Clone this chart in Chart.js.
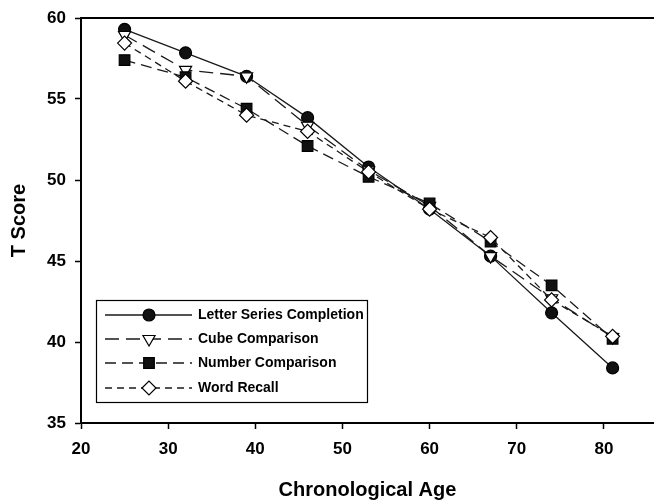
<!DOCTYPE html>
<html lang="en">
<head>
    <meta charset="UTF-8">
    <title>T Score by Chronological Age</title>
    <script src="https://cdn.jsdelivr.net/npm/chart.js"></script>
    <style>
        body { margin: 0; background: #fff; }
        #wrap { width: 654px; height: 504px; }
    </style>
</head>
<body>
    <div id="wrap">
        <canvas id="age-chart" width="654" height="504"></canvas>
    </div>

    <script>
        // Ages at which the means were plotted
        const ages = [25, 32, 39, 46, 53, 60, 67, 74, 81];

        // Series names (legend order)
        const seriesNames = ['Letter Series Completion', 'Cube Comparison', 'Number Comparison', 'Word Recall'];

        // T scores
        const letterSeries = [59.3, 57.85, 56.4, 53.85, 50.8, 48.2, 45.3, 41.8, 38.4];
        const cubeComparison = [58.95, 56.8, 56.4, 53.35, 50.6, 48.4, 45.3, 42.7, 40.3];
        const numberComparison = [57.4, 56.35, 54.4, 52.1, 50.2, 48.55, 46.2, 43.5, 40.2];
        const wordRecall = [58.45, 56.1, 54.0, 53.0, 50.5, 48.2, 46.45, 42.6, 40.35];

        // Tick values
        const yTicks = [35, 40, 45, 50, 55, 60];
        const xTicks = [20, 30, 40, 50, 60, 70, 80];

        const ink = '#1a1a1a';

        function toPoints(values) {
            return ages.map((a, i) => ({ x: a, y: values[i] }));
        }

        const styles = [
            { dash: [], point: 'circle', rot: 0, r: 6, fill: '#111' },
            { dash: [14, 7], point: 'triangle', rot: 180, r: 7, fill: '#fff' },
            { dash: [11, 6], point: 'rect', rot: 0, r: 7.5, fill: '#111' },
            { dash: [7, 5], point: 'rectRot', rot: 0, r: 7, fill: '#fff' }
        ];
        const allValues = [letterSeries, cubeComparison, numberComparison, wordRecall];

        const datasets = allValues.map((vals, i) => ({
            label: seriesNames[i],
            data: toPoints(vals),
            borderColor: ink,
            borderWidth: 1.3,
            borderDash: styles[i].dash,
            pointStyle: styles[i].point,
            rotation: styles[i].rot,
            pointRadius: styles[i].r,
            pointBackgroundColor: styles[i].fill,
            pointBorderColor: '#000',
            pointBorderWidth: 1.2,
            fill: false,
            tension: 0,
            // later series sit on top, like the original
            order: allValues.length - i
        }));

        // Boxed legend inside the plot, plus the top frame line
        const boxLegend = {
            id: 'boxLegend',
            afterDatasetsDraw(chart) {
                const ctx = chart.ctx;
                const area = chart.chartArea;
                ctx.save();

                // top frame
                ctx.strokeStyle = '#000';
                ctx.lineWidth = 2;
                ctx.beginPath();
                ctx.moveTo(area.left, area.top);
                ctx.lineTo(area.right, area.top);
                ctx.stroke();

                // legend box
                const bx = 96.5, by = 300.5, bw = 271, bh = 102;
                ctx.fillStyle = '#fff';
                ctx.fillRect(bx, by, bw, bh);
                ctx.lineWidth = 1.2;
                ctx.strokeRect(bx, by, bw, bh);

                const rows = [315, 339, 363, 388];
                ctx.font = 'bold 14px "Liberation Sans", Arial, sans-serif';
                ctx.textBaseline = 'middle';
                chart.data.datasets.forEach((ds, i) => {
                    const y = rows[i];
                    ctx.strokeStyle = ink;
                    ctx.lineWidth = 1.3;
                    ctx.setLineDash(ds.borderDash);
                    ctx.beginPath();
                    ctx.moveTo(105, y);
                    ctx.lineTo(192, y);
                    ctx.stroke();
                    ctx.setLineDash([]);
                    ctx.fillStyle = ds.pointBackgroundColor;
                    ctx.strokeStyle = '#000';
                    ctx.lineWidth = 1.2;
                    Chart.helpers.drawPoint(ctx, {
                        pointStyle: ds.pointStyle,
                        rotation: ds.rotation,
                        radius: ds.pointRadius,
                        borderWidth: 1.2
                    }, 149, y);
                    ctx.fillStyle = '#000';
                    ctx.fillText(ds.label, 198, y);
                });
                ctx.restore();
            }
        };

        const ctx = document.getElementById('age-chart').getContext('2d');
        new Chart(ctx, {
            type: 'line',
            data: { datasets: datasets },
            options: {
                responsive: false,
                animation: false,
                layout: { autoPadding: false, padding: { top: 18, right: 0, bottom: 0, left: 0 } },
                plugins: {
                    legend: { display: false },
                    tooltip: { enabled: false }
                },
                scales: {
                    x: {
                        type: 'linear',
                        min: 20,
                        max: 85.75,
                        afterBuildTicks: s => { s.ticks = xTicks.map(v => ({ value: v })); },
                        afterFit: s => { s.height = 81; s.paddingLeft = 0; s.paddingRight = 0; },
                        grid: { drawOnChartArea: false, color: '#000', tickLength: 6, tickWidth: 1.5 },
                        border: { color: '#000', width: 2 },
                        ticks: {
                            color: '#000',
                            padding: 10,
                            maxRotation: 0,
                            font: { family: '"Liberation Sans", Arial, sans-serif', size: 17, weight: 'bold' }
                        },
                        title: {
                            display: true,
                            text: 'Chronological Age',
                            color: '#000',
                            padding: { top: 0, bottom: 2 },
                            font: { family: '"Liberation Sans", Arial, sans-serif', size: 20, weight: 'bold' }
                        }
                    },
                    y: {
                        min: 35,
                        max: 60,
                        afterBuildTicks: s => { s.ticks = yTicks.map(v => ({ value: v })); },
                        afterFit: s => { s.width = 81; s.paddingTop = 0; s.paddingBottom = 0; },
                        grid: { drawOnChartArea: false, color: '#000', tickLength: 6, tickWidth: 1.5 },
                        border: { color: '#000', width: 2 },
                        ticks: {
                            color: '#000',
                            padding: 9,
                            font: { family: '"Liberation Sans", Arial, sans-serif', size: 17, weight: 'bold' }
                        },
                        title: {
                            display: true,
                            text: 'T Score',
                            color: '#000',
                            padding: { top: 7, bottom: 0 },
                            font: { family: '"Liberation Sans", Arial, sans-serif', size: 20, weight: 'bold' }
                        }
                    }
                }
            },
            plugins: [boxLegend]
        });
    </script>
</body>
</html>
